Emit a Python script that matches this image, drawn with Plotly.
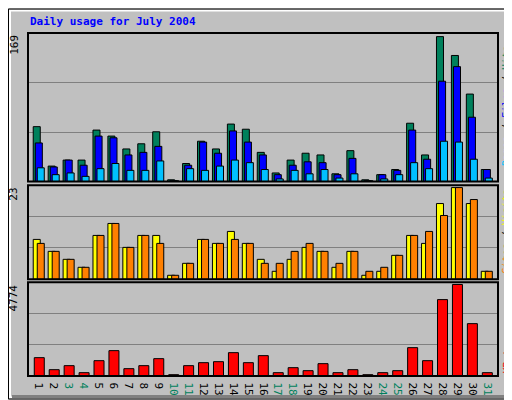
import plotly.graph_objs as go

days = list(range(1, 32))
hits = [64, 18, 25, 25, 60, 53, 38, 44, 58, 2, 21, 47, 38, 67, 61, 34,
        10, 25, 33, 31, 9, 36, 2, 8, 14, 68, 31, 169, 147, 102, 14]
files = [45, 17, 25, 19, 53, 51, 31, 34, 41, 1, 19, 46, 33, 59, 46, 31,
         8, 19, 23, 22, 8, 27, 1, 8, 13, 60, 26, 117, 134, 75, 14]
pages = [16, 8, 10, 6, 15, 21, 13, 13, 24, 1, 15, 13, 18, 25, 22, 14,
         3, 13, 9, 14, 4, 9, 1, 3, 8, 22, 15, 47, 46, 26, 4]
visits = [10, 7, 5, 3, 11, 14, 8, 11, 11, 1, 4, 10, 9, 12, 9, 5,
          2, 5, 8, 7, 3, 7, 1, 2, 6, 11, 9, 19, 23, 19, 2]
sites = [9, 7, 5, 3, 11, 14, 8, 11, 9, 1, 4, 10, 9, 10, 9, 4,
         4, 7, 9, 7, 4, 7, 2, 3, 6, 11, 12, 16, 23, 20, 2]
kbytes = [957, 330, 540, 174, 800, 1323, 383, 540, 905, 70, 540, 696, 748, 1218, 696, 1062,
          174, 435, 278, 644, 174, 330, 70, 174, 278, 1479, 800, 3985, 4774, 2732, 174]
weekends = [3, 4, 10, 11, 17, 18, 24, 25, 31]

mono = "DejaVu Sans Mono"
line = dict(color="black", width=1)

fig = go.Figure()

def bars(y, color, off, w, ax):
    fig.add_trace(go.Bar(x=days, y=y, offset=off, width=w, yaxis=ax,
                         marker=dict(color=color, line=line), showlegend=False, hoverinfo="y"))

bars(hits, "#00805C", -0.52, 0.47, "y")
bars(files, "#0000FF", -0.38, 0.47, "y")
bars(pages, "#00C0FF", -0.25, 0.47, "y")
bars(visits, "#FFFF00", -0.52, 0.47, "y2")
bars(sites, "#FF8000", -0.25, 0.47, "y2")
bars(kbytes, "#FF0000", -0.45, 0.67, "y3")

ticktext = [f'<span style="color:#00805C">{d}</span>' if d in weekends else str(d) for d in days]

def yax(dom, top):
    r = top * 1.025
    return dict(domain=dom, range=[0, r], tickvals=[r / 3, 2 * r / 3], showticklabels=False,
                showgrid=True, gridcolor="#808080", gridwidth=1, zeroline=False,
                showline=False, ticks="", anchor="x", fixedrange=True)

fig.update_layout(
    width=512, height=400, barmode="overlay",
    paper_bgcolor="#C0C0C0", plot_bgcolor="#C0C0C0",
    margin=dict(l=20, r=22, t=25, b=24),
    font=dict(family=mono, size=11, color="black"),
    xaxis=dict(range=[0.13, 31.6], tickvals=days, ticktext=ticktext, showgrid=False,
               zeroline=False, ticks="", showline=False, anchor="y3",
               tickfont=dict(size=11), fixedrange=True),
    yaxis=yax([0.567, 1], 169),
    yaxis2=yax([0.282, 0.556], 23),
    yaxis3=yax([0, 0.2735], 4774),
)

# panel borders
for ax in ["y", "y2", "y3"]:
    fig.add_shape(type="rect", xref="x domain", yref=f"{ax} domain", x0=0, x1=1, y0=0, y1=1,
                  line=dict(color="black", width=2))

# left max labels and right series labels
for yv, txt in [(1.0, "169"), (0.556, "23"), (0.2735, "4774")]:
    fig.add_annotation(x=-0.012, y=yv, xref="paper", yref="paper", text=txt, textangle=-90,
                       showarrow=False, xanchor="right", yanchor="top", font=dict(size=11))

right = [
    (0.785, '<span style="color:#00C0FF">Pages</span> / <span style="color:#0000FF">Files</span>'
            ' / <span style="color:#00805C">Hits</span>'),
    (0.42, '<span style="color:#FF8000">Sites</span> / <span style="color:#FFFF00">Visits</span>'),
    (0.0, '<span style="color:#FF0000">KBytes</span>'),
]
for yv, txt in right:
    fig.add_annotation(x=1.0, y=yv, xref="paper", yref="paper", text=txt, textangle=-90,
                       showarrow=False, xanchor="left", xshift=1,
                       yanchor="bottom" if yv == 0.0 else "middle", font=dict(size=10))

fig.add_annotation(x=0.0, y=1.0, xref="paper", yref="paper", text="<b>Daily usage for July 2004</b>",
                   showarrow=False, xanchor="left", yanchor="bottom", yshift=3,
                   font=dict(size=11, color="#0000FF"))

# outer frame: white bevel, dark shadow, black border
px = lambda v: (v - 20) / 470
py = lambda v: (376 - v) / 351
fig.add_shape(type="rect", xref="paper", yref="paper", x0=px(2), x1=px(509), y0=py(398), y1=py(2),
              line=dict(color="white", width=2), layer="below")
fig.add_shape(type="line", xref="paper", yref="paper", x0=px(508), x1=px(508), y0=py(398), y1=py(4),
              line=dict(color="#808080", width=3), layer="below")
fig.add_shape(type="line", xref="paper", yref="paper", x0=px(4), x1=px(509), y0=py(397), y1=py(397),
              line=dict(color="#808080", width=3), layer="below")
fig.add_shape(type="rect", xref="paper", yref="paper", x0=px(0.5), x1=px(511), y0=py(399.5), y1=py(0.5),
              line=dict(color="black", width=1))

fig.write_html("out.html")
